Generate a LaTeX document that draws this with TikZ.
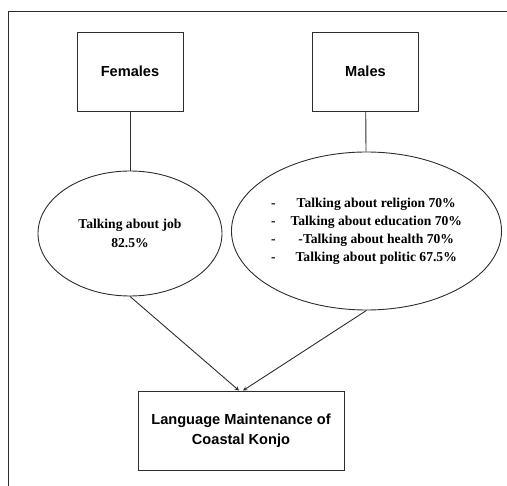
\documentclass[tikz,border=0pt]{standalone}
\usepackage{fontspec}
\setmainfont{Liberation Serif}
\setsansfont{Liberation Sans}
\usepackage{xcolor}
\definecolor{line-grey}{RGB}{45,45,45}
\usepackage{tikz}
\usetikzlibrary{shapes.geometric}

\begin{document}
\begin{tikzpicture}[
	x=1pt,y=-1pt,
	>=stealth,
	every path/.style={line-grey,line width=.9pt},
	groupbox/.style={draw=line-grey,rectangle,inner sep=0pt,
		minimum width=106pt,minimum height=79pt,
		font=\sffamily\bfseries\fontsize{14.6}{20}\selectfont,text=black,align=center},
	topicoval/.style={draw=line-grey,ellipse,inner sep=0pt,
		font=\rmfamily\bfseries\fontsize{13.6}{19.5}\selectfont,text=black,align=center},
	]
	
	\useasboundingbox (0,0) rectangle (507,486);
	\draw (8,486) |- (507,11); % outer frame, cut at right and bottom
	
	\node[groupbox] (females) at (130,71.5) {Females};
	\node[groupbox] (males) at (365.5,71.5) {Males};
	
	\node[topicoval,minimum width=184pt,minimum height=125pt]
		(femtalk) at (130,233.5) {Talking about job\\82.5\%};
	\node[topicoval,minimum width=267pt,minimum height=158pt]
		(maltalk) at (366.5,231) {%
		\begin{tabular}{@{}l@{\hspace{15pt}}c@{}}
			- &Talking about religion 70\%\\[-1.5pt]
			- &Talking about education 70\%\\[-1.5pt]
			- &-Talking about health 70\%\\[-1.5pt]
			- &Talking about politic 67.5\%
		\end{tabular}};
	
	\node[groupbox,minimum width=206pt] (konjo) at (241,430.5)
		{Language Maintenance of\\Coastal Konjo};
	
	\draw (females) -- (femtalk);
	\draw (males) -- (maltalk);
	\draw[->] (femtalk.south) -- ([xshift=-2pt]konjo.north);
	\draw[->] (maltalk.south) -- ([xshift=2pt]konjo.north);
\end{tikzpicture}
\end{document}
